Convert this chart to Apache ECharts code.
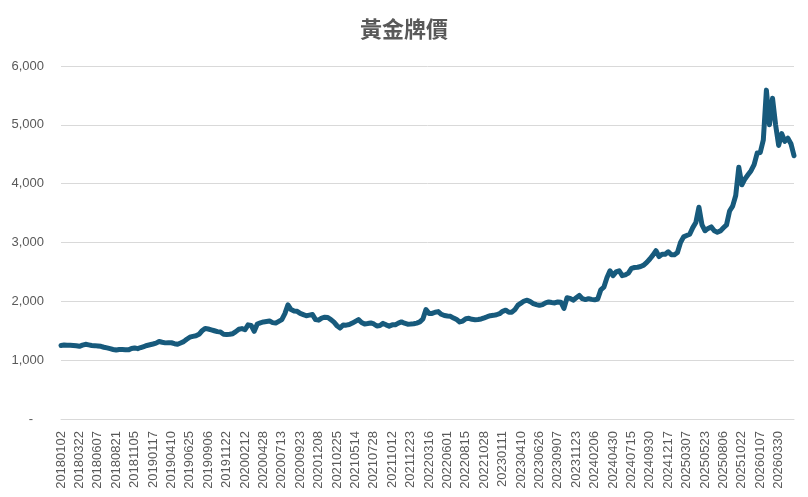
<!DOCTYPE html>
<html>
<head>
<meta charset="utf-8">
<script src="https://cdn.jsdelivr.net/npm/echarts@6/dist/echarts.min.js"></script>
<style>
  html, body { margin: 0; padding: 0; background: #fff; }
  #charts { width: 808px; height: 497px; }
</style>
</head>
<body>
<div id="charts"></div>
<script>
// tick labels shown on the x axis (one every 6 samples)
let tickDates = [
  "20180102", "20180322", "20180607", "20180821", "20181105", "20190117", "20190410", "20190625",
  "20190906", "20191122", "20200212", "20200428", "20200713", "20200923", "20201208", "20210225",
  "20210514", "20210728", "20211012", "20211223", "20220316", "20220601", "20220815", "20221028",
  "20230111", "20230410", "20230626", "20230907", "20231123", "20240206", "20240430", "20240715",
  "20240930", "20241217", "20250307", "20250523", "20250806", "20251022", "20260107", "20260330"
];
let samplesPerTick = 6;

// gold price, 6 samples per tick interval
let prices = [
  1250, 1256, 1254, 1254, 1250, 1244,
  1236, 1255, 1270, 1260, 1249, 1247,
  1242, 1235, 1220, 1209, 1195, 1182,
  1172, 1180, 1181, 1178, 1175, 1198,
  1208, 1195, 1215, 1232, 1250, 1262,
  1275, 1290, 1318, 1305, 1294, 1298,
  1296, 1280, 1271, 1293, 1315, 1355,
  1390, 1405, 1415, 1440, 1500, 1540,
  1530, 1515, 1500, 1485, 1478, 1440,
  1435, 1440, 1450, 1485, 1525, 1537,
  1517, 1600, 1590, 1490, 1615, 1635,
  1650, 1657, 1665, 1638, 1630, 1660,
  1690, 1790, 1940, 1860, 1835, 1830,
  1795, 1775, 1755, 1765, 1775, 1690,
  1680, 1715, 1730, 1725, 1690, 1645,
  1585, 1545, 1597, 1595, 1605, 1630,
  1660, 1690, 1640, 1614, 1622, 1632,
  1615, 1580, 1590, 1625, 1600, 1578,
  1600, 1600, 1630, 1650, 1628, 1612,
  1615, 1620, 1630, 1650, 1700, 1860,
  1795, 1795, 1815, 1825, 1780, 1758,
  1750, 1745, 1715, 1690, 1650, 1665,
  1705, 1712, 1695, 1688, 1692, 1700,
  1718, 1738, 1755, 1762, 1772, 1790,
  1830, 1850, 1815, 1815, 1860, 1935,
  1970, 2005, 2020, 1995, 1962, 1945,
  1932, 1945, 1975, 1990, 1980, 1972,
  1990, 1985, 1880, 2060, 2050, 2020,
  2060, 2100, 2045, 2030, 2046, 2033,
  2025, 2040, 2195, 2240, 2400, 2520,
  2437, 2500, 2520, 2437, 2450, 2480,
  2560, 2575, 2580, 2592, 2615, 2662,
  2720, 2785, 2860, 2760, 2800, 2800,
  2842, 2790, 2790, 2831, 3000, 3095,
  3118, 3141, 3253, 3340, 3600, 3300,
  3200, 3240, 3265, 3200, 3175, 3197,
  3250, 3300, 3535, 3619, 3800, 4280,
  3980, 4080, 4150, 4220, 4323, 4520,
  4530, 4745, 5590, 5000, 5450, 5000,
  4650, 4850, 4720, 4773, 4680, 4475
];

let yTicks = { min: 0, max: 6000, interval: 1000 };

// category list: a tick date every 6 samples, blank in between
let categories = prices.map(function (v, i) {
  if (i % samplesPerTick === 0 && tickDates[i / samplesPerTick]) {
    return tickDates[i / samplesPerTick];
  }
  return "";
});

let chartDom = document.getElementById("charts");
let myChart = echarts.init(chartDom);
let textColor = "#595959";
let gridColor = "#d9d9d9";

let option = {
  animation: false,
  title: {
    text: "黃金牌價",
    left: "center",
    top: 13,
    textStyle: {
      fontFamily: "Noto Sans CJK TC",
      fontSize: 22,
      fontWeight: "bold",
      color: textColor,
    },
  },
  grid: {
    left: 61,
    right: 14,
    top: 66,
    bottom: 78,
    containLabel: false,
  },
  xAxis: {
    type: "category",
    boundaryGap: false,
    data: categories,
    axisLine: {
      show: true,
      lineStyle: { color: gridColor, width: 1 },
    },
    axisTick: { show: false },
    axisLabel: {
      interval: samplesPerTick - 1,
      rotate: 90,
      margin: 12,
      color: textColor,
      fontFamily: "Liberation Sans",
      fontSize: 13,
    },
  },
  yAxis: {
    type: "value",
    min: yTicks.min,
    max: yTicks.max,
    interval: yTicks.interval,
    axisLine: { show: false },
    axisTick: { show: false },
    splitLine: {
      lineStyle: { color: gridColor, width: 1 },
    },
    axisLabel: {
      margin: 17,
      color: textColor,
      fontFamily: "Liberation Sans",
      fontSize: 13,
      formatter: function (v) {
        if (v === 0) {
          return "-   ";
        }
        return String(v).replace(/\B(?=(\d{3})+(?!\d))/g, ",");
      },
    },
  },
  series: [
    {
      name: "黃金牌價",
      type: "line",
      data: prices,
      showSymbol: false,
      symbol: "none",
      lineStyle: {
        color: "#175a7c",
        width: 5,
        join: "round",
        cap: "round",
      },
      itemStyle: { color: "#175a7c" },
    },
  ],
};

option && myChart.setOption(option);
</script>
</body>
</html>
